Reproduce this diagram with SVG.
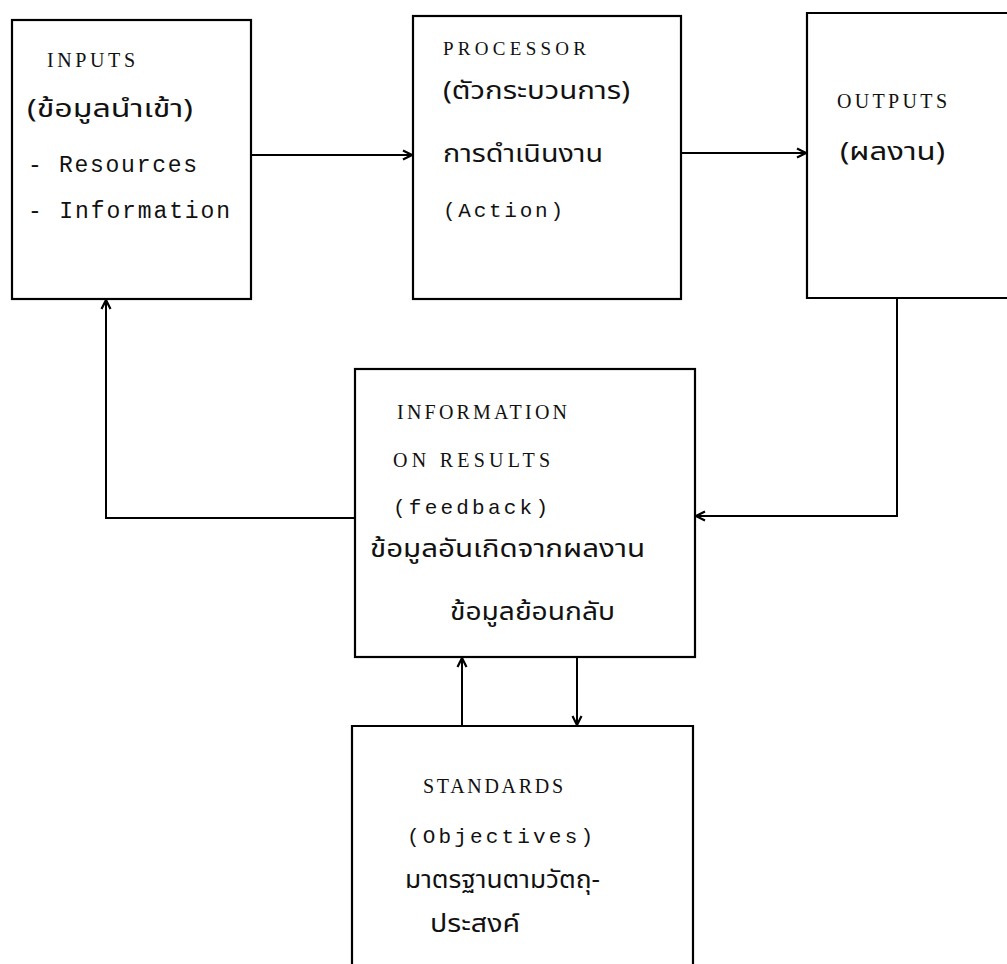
<svg xmlns="http://www.w3.org/2000/svg" width="1007" height="964" viewBox="0 0 1007 964">
<style>
.box{fill:none;stroke:#000;stroke-width:2.2}
.con{fill:none;stroke:#000;stroke-width:2}
.lat{font-family:"Liberation Mono","DejaVu Sans Mono",monospace;fill:#111}
.cap{font-family:"Liberation Serif","DejaVu Serif",serif;fill:#111}
.th{font-family:"Noto Sans Thai","Noto Serif Thai","Tlwg Typo","Loma","Garuda","DejaVu Sans",sans-serif;fill:#111;font-size:25px}
</style>
<defs>
<marker id="arr" viewBox="0 0 12 12" refX="11" refY="6" markerWidth="12" markerHeight="12" markerUnits="userSpaceOnUse" orient="auto">
<path d="M2,1.5 L11,6 L2,10.5" fill="none" stroke="#000" stroke-width="2.2"/>
</marker>
</defs>
<rect width="1007" height="964" fill="#fff"/>
<g id="connectors">
<line class="con" x1="251" y1="155" x2="412" y2="155" marker-end="url(#arr)"/>
<line class="con" x1="681" y1="153" x2="806" y2="153" marker-end="url(#arr)"/>
<path class="con" d="M897,298 V516 H696" marker-end="url(#arr)"/>
<path class="con" d="M355,518 H106 V300" marker-end="url(#arr)"/>
<line class="con" x1="462" y1="726" x2="462" y2="658" marker-end="url(#arr)"/>
<line class="con" x1="577" y1="657" x2="577" y2="725" marker-end="url(#arr)"/>
</g>
<g id="inputs">
<rect class="box" x="12" y="20" width="239" height="279"/>
<text class="cap" x="47" y="67" font-size="20" textLength="88" lengthAdjust="spacing">INPUTS</text>
<text class="th" x="27" y="117" textLength="166" lengthAdjust="spacingAndGlyphs">(ข้อมูลนำเข้า)</text>
<text class="lat" x="28" y="172" font-size="23" textLength="169" lengthAdjust="spacing">- Resources</text>
<text class="lat" x="28" y="218" font-size="23" textLength="202" lengthAdjust="spacing">- Information</text>
</g>
<g id="processor">
<rect class="box" x="413" y="16" width="268" height="283"/>
<text class="cap" x="443" y="55" font-size="19" textLength="143" lengthAdjust="spacing">PROCESSOR</text>
<text class="th" x="443" y="99" textLength="187" lengthAdjust="spacingAndGlyphs">(ตัวกระบวนการ)</text>
<text class="th" x="443" y="162" textLength="160" lengthAdjust="spacingAndGlyphs">การดำเนินงาน</text>
<text class="lat" x="443" y="217" font-size="21" textLength="120" lengthAdjust="spacing">(Action)</text>
</g>
<g id="outputs">
<path class="box" d="M1010,13 H807 V298 H1010"/>
<text class="cap" x="837" y="108" font-size="20" textLength="110" lengthAdjust="spacing">OUTPUTS</text>
<text class="th" x="840" y="160" textLength="105" lengthAdjust="spacingAndGlyphs">(ผลงาน)</text>
</g>
<g id="information">
<rect class="box" x="355" y="369" width="340" height="288"/>
<text class="cap" x="397" y="419" font-size="20" textLength="170" lengthAdjust="spacing">INFORMATION</text>
<text class="cap" x="393" y="467" font-size="20" textLength="157" lengthAdjust="spacing">ON RESULTS</text>
<text class="lat" x="393" y="514" font-size="21" textLength="155" lengthAdjust="spacing">(feedback)</text>
<text class="th" x="370" y="557" textLength="275" lengthAdjust="spacingAndGlyphs">ข้อมูลอันเกิดจากผลงาน</text>
<text class="th" x="450" y="620" textLength="165" lengthAdjust="spacingAndGlyphs">ข้อมูลย้อนกลับ</text>
</g>
<g id="standards">
<path class="box" d="M352,970 V726 H693 V970"/>
<text class="cap" x="423" y="793" font-size="20" textLength="140" lengthAdjust="spacing">STANDARDS</text>
<text class="lat" x="407" y="843" font-size="21" textLength="186" lengthAdjust="spacing">(Objectives)</text>
<text class="th" x="405" y="888" textLength="195" lengthAdjust="spacingAndGlyphs">มาตรฐานตามวัตถุ-</text>
<text class="th" x="430" y="932" textLength="90" lengthAdjust="spacingAndGlyphs">ประสงค์</text>
</g>
</svg>
